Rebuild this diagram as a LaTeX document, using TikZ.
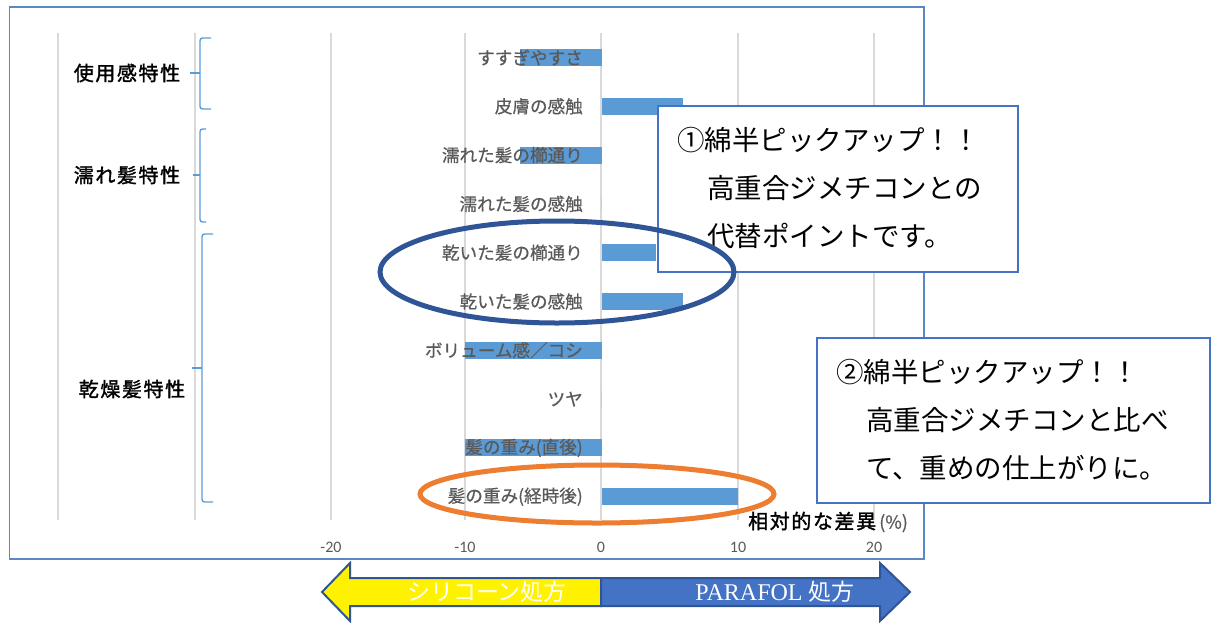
\documentclass[tikz,border=0pt]{standalone}
\usepackage{fontspec}
\setmainfont{Liberation Serif}
\newfontfamily\cjk{Noto Sans CJK JP}
\newfontfamily\cjkm[FakeBold=0.6]{Noto Sans CJK JP}
\newfontfamily\cjkb[FakeBold=1.5,LetterSpace=8]{Noto Sans CJK JP}
\newfontfamily\numf{Carlito}
\definecolor{barblue}{HTML}{5B9BD5}
\definecolor{labgray}{HTML}{595959}
\definecolor{gridgray}{HTML}{D9D9D9}
\definecolor{frameblue}{HTML}{5B87C5}
\definecolor{boxblue}{HTML}{4472C4}
\definecolor{darkblue}{HTML}{2F5597}
\definecolor{orng}{HTML}{ED7D31}
\definecolor{brkblue}{HTML}{5B9BD5}
\tikzset{
  lab/.style={inner sep=0pt, anchor=east, text=labgray, font=\cjkm\fontsize{17.6}{17.6}\selectfont},
  grp/.style={inner sep=0pt, text=black, font=\cjkb\fontsize{20}{20}\selectfont},
  num/.style={inner sep=0pt, text=labgray, font=\numf\fontsize{16}{16}\selectfont},
  gridl/.style={draw=gridgray, line width=1.3pt},
  brk/.style={draw=brkblue, line width=1.4pt, rounded corners=2.5pt},
  cbox/.style={draw=boxblue, line width=1.8pt, fill=white, inner sep=0pt},
  ctext/.style={inner sep=0pt, anchor=west, text=black, font=\cjk\fontsize{27.5}{27.5}\selectfont},
  ell/.style={line width=5pt},
  arr/.style={draw=darkblue, line width=2pt, line join=miter},
  atext/.style={inner sep=0pt, text=white},
}
\begin{document}
\begin{tikzpicture}[x=1pt, y=-1pt]
\useasboundingbox (0,0) rectangle (1218,622);
% chart frame
\draw[draw=frameblue, line width=1.5pt] (9.5,7) rectangle (924,559);
% grid
\foreach \gx in {58,195,331,465,601,738,874}
  \draw[gridl] (\gx,33) -- (\gx,520);
% bars and category labels
\foreach \yc/\v/\t [count=\i] in {57.5/-6/すすぎやすさ, 106.3/6/皮膚の感触, 155.1/-6/濡れた髪の櫛通り, 203.9/0/濡れた髪の感触, 252.7/4/乾いた髪の櫛通り, 301.5/6/乾いた髪の感触, 350.3/-10/ボリューム感／コシ, 399.1/0/ツヤ, 447.9/-10/髪の重み(直後), 496.7/10/髪の重み(経時後)} {
  \fill[barblue] (601.5,\yc-8.5) rectangle ({601.5+13.66*\v},\yc+8.5);
  \node[lab] (cat\i) at (583,\yc) {\t};
}
% group brackets
\draw[brk] (211,38) -- (200,38) -- (200,109) -- (211,109);
\draw[brk] (200,73) -- (190,73);
\draw[brk] (206,129) -- (200,129) -- (200,222) -- (206,222);
\draw[brk] (200,175) -- (193,175);
\draw[brk] (213,234) -- (202,234) -- (202,502) -- (213,502);
\draw[brk] (202,368) -- (192,368);
\node[grp] (g1) at (127,73) {使用感特性};
\node[grp] (g2) at (127,175) {濡れ髪特性};
\node[grp] (g3) at (132,389) {乾燥髪特性};
% axis labels
\node[num] (n1) at (331,547) {-20};
\node[num] (n2) at (465,547) {-10};
\node[num] (n3) at (601,547) {0};
\node[num] (n4) at (738,547) {10};
\node[num] (n5) at (874,547) {20};
\node[inner sep=0pt, anchor=west] (axt) at (748,522) {{\cjkb\fontsize{20}{20}\selectfont 相対的な差異}\hspace{3pt}{\color{labgray}\cjkm\fontsize{18}{18}\selectfont (\%)}};
% callout boxes
\node[cbox, minimum width=360pt, minimum height=166pt] (box1) at (838,189) {};
\node[ctext] (b1l1) at (677,140) {①綿半ピックアップ！！};
\node[ctext] (b1l2) at (707,188) {高重合ジメチコンとの};
\node[ctext] (b1l3) at (707,236) {代替ポイントです。};
\node[cbox, minimum width=393pt, minimum height=165pt] (box2) at (1013.5,420.5) {};
\node[ctext] (b2l1) at (836,372) {②綿半ピックアップ！！};
\node[ctext] (b2l2) at (866,420) {高重合ジメチコンと比べ};
\node[ctext] (b2l3) at (866,468) {て、重めの仕上がりに。};
% highlight ellipses
\draw[ell, darkblue] (557,272) ellipse [x radius=177pt, y radius=51pt];
\draw[ell, orng] (597,494) ellipse [x radius=177pt, y radius=29pt];
% direction arrows
\draw[arr, fill=yellow] (601,578) -- (350,578) -- (350,563) -- (322,592) -- (350,621) -- (350,606) -- (601,606) -- cycle;
\draw[arr, fill=boxblue] (601,578) -- (880,578) -- (880,563) -- (910,592) -- (880,621) -- (880,606) -- (601,606) -- cycle;
\node[atext, font=\cjk\fontsize{23}{23}\selectfont] (al) at (487,592) {シリコーン処方};
\node[atext] (ar) at (775,592) {{\rmfamily\fontsize{24}{24}\selectfont PARAFOL\ }{\cjk\fontsize{23}{23}\selectfont 処方}};
\end{tikzpicture}
\end{document}
